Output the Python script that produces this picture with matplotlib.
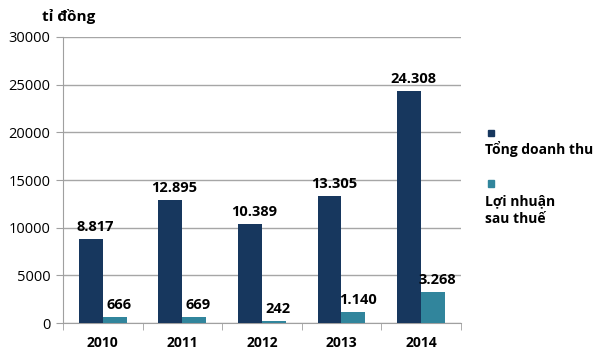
import matplotlib.pyplot as plt
import numpy as np
from matplotlib.patches import Rectangle

plt.rcParams['font.family'] = ['Open Sans', 'DejaVu Sans']

years = ['2010', '2011', '2012', '2013', '2014']
revenue = [8817, 12895, 10389, 13305, 24308]
profit = [666, 669, 242, 1140, 3268]
series_names = ['Tổng doanh thu', 'Lợi nhuận\nsau thuế']
colors = ['#17375e', '#31859c']


def fmt(v):
    return f'{v:,}'.replace(',', '.')


fig = plt.figure(figsize=(6, 3.59), dpi=100)
ax = fig.add_axes([0.105, 0.1, 0.663, 0.797])

x = np.arange(len(years))
width = 0.3
bars1 = ax.bar(x - width / 2, revenue, width, color=colors[0], zorder=3)
bars2 = ax.bar(x + width / 2, profit, width, color=colors[1], zorder=3)

for bars, vals in [(bars1, revenue), (bars2, profit)]:
    for rect, v in zip(bars, vals):
        ax.annotate(fmt(v), (rect.get_x() + rect.get_width() / 2, rect.get_height()),
                    xytext=(3, 3.5), textcoords='offset points',
                    ha='center', va='bottom', fontsize=10.5, fontweight='bold')

ax.set_xlim(-0.5, len(years) - 0.5)
ax.set_ylim(0, 30000)
ax.set_yticks(range(0, 30001, 5000))
ax.set_xticks(x)
ax.set_xticklabels(years, fontweight='bold', fontsize=10)
ax.set_xticks(np.arange(-0.5, len(years)), minor=True)
ax.tick_params(axis='x', which='major', length=0, pad=9)
ax.tick_params(axis='x', which='minor', length=5, color='#a0a0a0')
ax.tick_params(axis='y', length=5, color='#a0a0a0', labelsize=10.5, pad=4)
ax.grid(axis='y', color='#a6a6a6', linewidth=1, zorder=0)

for s in ['top', 'right']:
    ax.spines[s].set_visible(False)
for s in ['left', 'bottom']:
    ax.spines[s].set_color('#a0a0a0')

fig.text(0.07, 0.955, 'tỉ đồng', fontsize=11, fontweight='bold', va='center')

# legend
fig.add_artist(Rectangle((0.813, 0.62), 0.011, 0.019, transform=fig.transFigure,
                         color=colors[0]))
fig.text(0.808, 0.585, series_names[0], fontsize=10, fontweight='bold', va='center')
fig.add_artist(Rectangle((0.813, 0.48), 0.011, 0.019, transform=fig.transFigure,
                         color=colors[1]))
fig.text(0.808, 0.415, series_names[1], fontsize=10, fontweight='bold', va='center',
         linespacing=1.3)

fig.savefig('out.png', dpi=100)
